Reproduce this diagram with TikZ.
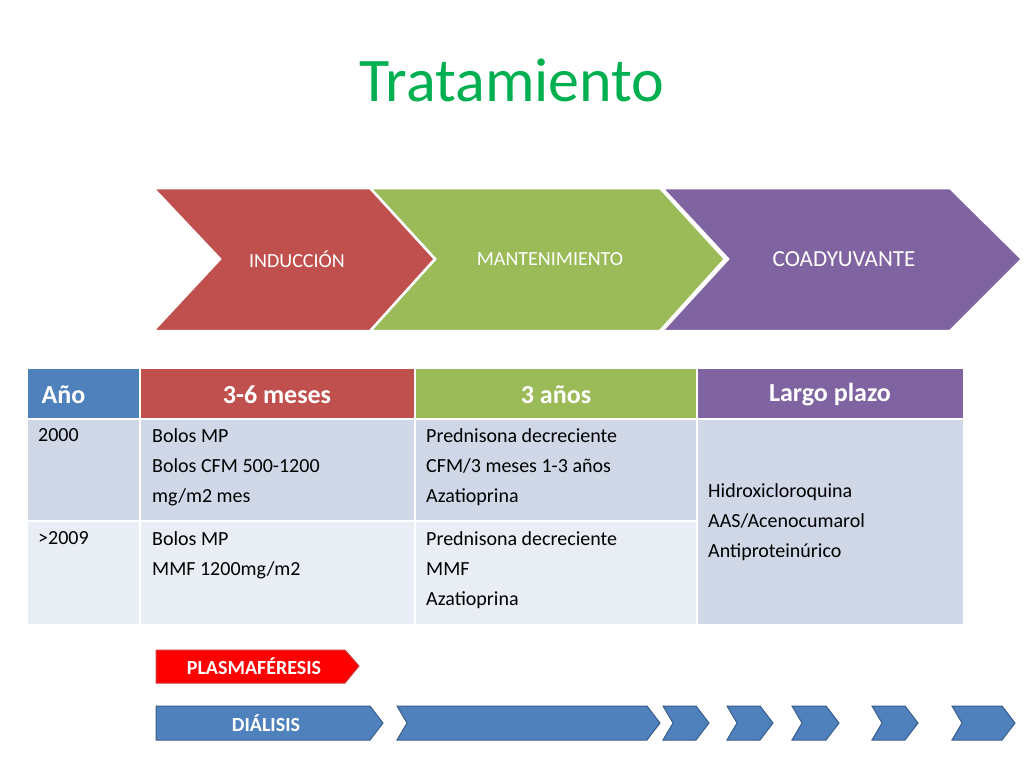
\documentclass[tikz,border=0pt]{standalone}
\usepackage{fontspec}
\setmainfont{Carlito}
\begin{document}
\begin{tikzpicture}[x=1pt,y=-1pt,
  hdr/.style={font=\fontsize{26}{30}\selectfont\bfseries,text=white},
  cell/.style={font=\fontsize{20}{30}\selectfont,align=left,anchor=north west,inner sep=0pt},
  chev/.style={draw=white,line width=2.5pt,line join=miter},
  blu/.style={fill=blue!20!black!0,fill={rgb,255:red,79;green,129;blue,189},draw={rgb,255:red,56;green,93;blue,138},line width=1pt}]
\definecolor{cb}{HTML}{4F81BD}\definecolor{cr}{HTML}{C0504D}
\definecolor{cg}{HTML}{9BBB59}\definecolor{cp}{HTML}{8064A2}
\definecolor{l1}{HTML}{D0D8E8}\definecolor{l2}{HTML}{E9EDF4}
\definecolor{tg}{HTML}{00B050}
\useasboundingbox (0,0) rectangle (1024,768);
\node[text=tg,font=\fontsize{62}{70}\selectfont] (title) at (512,80) {Tratamiento};
% chevrons
\fill[chev,fill=cp] (662,188)--(950,188)--(1022,259)--(950,331)--(662,331)--(728,259)--cycle;
\draw[chev,fill=cg] (370,188)--(660,188)--(725,259)--(660,331)--(370,331)--(435,259)--cycle;
\draw[chev,fill=cr] (153,188)--(370,188)--(435,259)--(370,331)--(153,331)--(220,259)--cycle;
\node[text=white,font=\fontsize{20}{24}\selectfont] (ind) at (297,259) {INDUCCIÓN};
\node[text=white,font=\fontsize{20}{24}\selectfont] (man) at (550,259) {MANTENIMIENTO};
\node[text=white,font=\fontsize{23}{26}\selectfont] (coa) at (844,259) {COADYUVANTE};
% table
\fill[cb] (28,369) rectangle (140,419);
\fill[cr] (140,369) rectangle (415,419);
\fill[cg] (415,369) rectangle (697,419);
\fill[cp] (697,369) rectangle (963,419);
\fill[l1] (28,419) rectangle (697,521);
\fill[l2] (28,521) rectangle (697,624);
\fill[l1] (697,419) rectangle (963,624);
\draw[white,line width=1.5pt] (28,419)--(963,419) (28,521)--(697,521)
  (140,369)--(140,624) (415,369)--(415,624) (697,369)--(697,624);
\node[hdr,anchor=west] (h1) at (38,395) {Año};
\node[hdr] (h2) at (277,395) {3-6 meses};
\node[hdr] (h3) at (556,395) {3 años};
\node[hdr] (h4) at (830,395) {Largo plazo};
\node[cell] (a1) at (38,428) {2000};
\node[cell] (b1) at (152,428) {Bolos MP\\Bolos CFM 500-1200\\mg/m2 mes};
\node[cell] (c1) at (426,428) {Prednisona decreciente\\CFM/3 meses 1-3 años\\Azatioprina};
\node[cell] (a2) at (38,531) {>2009};
\node[cell] (b2) at (152,531) {Bolos MP\\MMF 1200mg/m2};
\node[cell] (c2) at (426,531) {Prednisona decreciente\\MMF\\Azatioprina};
\node[cell,anchor=west] (d1) at (708,522) {Hidroxicloroquina\\AAS/Acenocumarol\\Antiproteinúrico};
% plasmaferesis
\draw[fill=red,draw={rgb,255:red,200;green,60;blue,60},line width=1pt] (156,650)--(345,650)--(359,666)--(345,683)--(156,683)--cycle;
\node[text=white,font=\fontsize{20}{24}\selectfont\bfseries] (pl) at (254,666) {PLASMAFÉRESIS};
% dialisis
\draw[blu] (156,706)--(370,706)--(383,723)--(370,740)--(156,740)--cycle;
\node[text=white,font=\fontsize{20}{24}\selectfont\bfseries] (di) at (266,723) {DIÁLISIS};
\foreach \a/\b in {397/660,663/709,727/773,792/839,872/918,952/1015}{
  \draw[blu] (\a,706)--(\b-13,706)--(\b,723)--(\b-13,740)--(\a,740)--(\a+10,723)--cycle;}
\end{tikzpicture}
\end{document}
